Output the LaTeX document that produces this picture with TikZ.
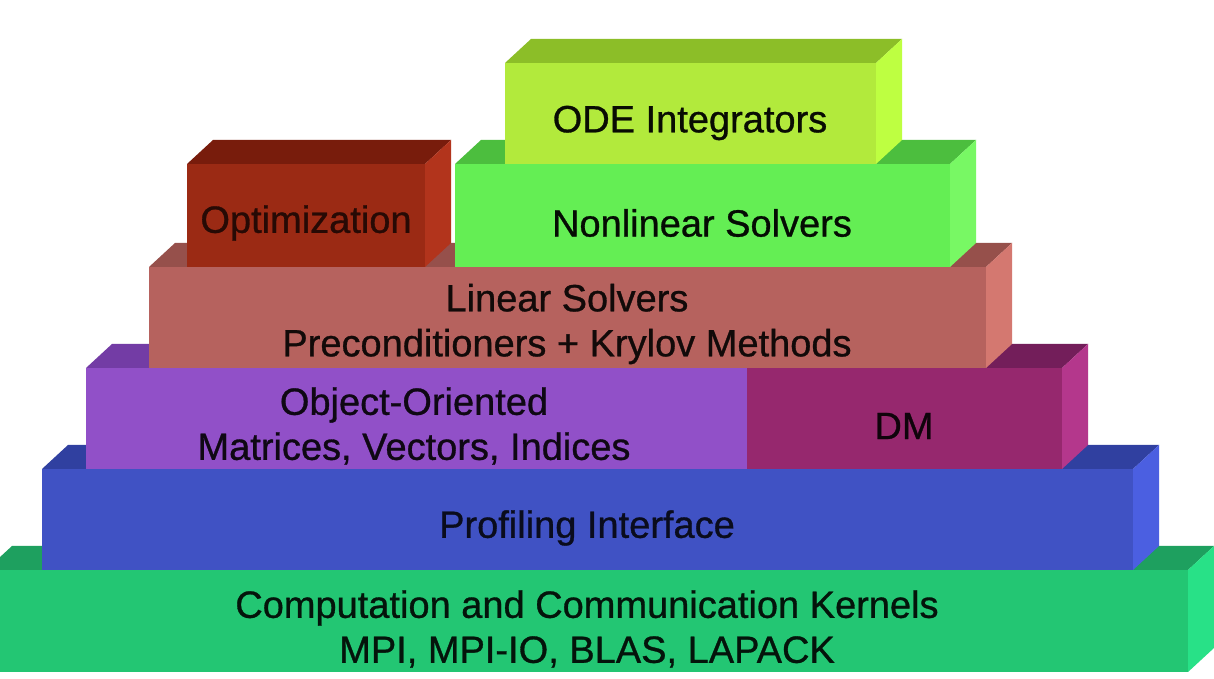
\documentclass[tikz,border=0pt]{standalone}
\usepackage{fontspec}
\setmainfont{Liberation Sans}
\newfontfamily\lblfont[FakeBold=0.8]{Liberation Sans}
\usetikzlibrary{calc}

\definecolor{kernF}{HTML}{23C673}
\definecolor{kernT}{HTML}{1EA05F}
\definecolor{kernS}{HTML}{28E187}
\definecolor{profF}{HTML}{4052C4}
\definecolor{profT}{HTML}{3040A0}
\definecolor{profS}{HTML}{4B5FE1}
\definecolor{vecF}{HTML}{9150C8}
\definecolor{vecT}{HTML}{733CA5}
\definecolor{dmF}{HTML}{96286E}
\definecolor{dmT}{HTML}{731E5A}
\definecolor{dmS}{HTML}{B4378C}
\definecolor{linF}{HTML}{B6625E}
\definecolor{linT}{HTML}{96504B}
\definecolor{linS}{HTML}{D47870}
\definecolor{optF}{HTML}{9B2A14}
\definecolor{optT}{HTML}{781C0C}
\definecolor{optS}{HTML}{B2341C}
\definecolor{nlsF}{HTML}{64EE54}
\definecolor{nlsT}{HTML}{4CBE3E}
\definecolor{nlsS}{HTML}{78F864}
\definecolor{odeF}{HTML}{B2EA3C}
\definecolor{odeT}{HTML}{8CBE28}
\definecolor{odeS}{HTML}{BEFF41}

\tikzset{lbl/.style={inner sep=0pt,align=center,
  font=\lblfont\fontsize{19}{22.5}\selectfont}}

\begin{document}
\begin{tikzpicture}[x=0.5pt,y=0.5pt]
\useasboundingbox (0,0) rectangle (1214,679);
\clip (0,0) rectangle (1214,679);
\fill[white] (0,0) rectangle (1214,679);
% kernels
\fill[kernF] (-14,7) rectangle (1188,109);
\fill[kernT] (-14,109) -- (1188,109) -- (1214,133) -- (12,133) -- cycle;
\fill[kernS] (1188,7) -- (1214,31) -- (1214,133) -- (1188,109) -- cycle;
% profiling
\fill[profF] (42,109) rectangle (1133,210);
\fill[profT] (42,210) -- (1133,210) -- (1159,234) -- (68,234) -- cycle;
\fill[profS] (1133,109) -- (1159,133) -- (1159,234) -- (1133,210) -- cycle;
% matrices, vectors
\fill[vecF] (86,210) rectangle (747,311);
\fill[vecT] (86,311) -- (747,311) -- (773,335) -- (112,335) -- cycle;
% dm
\fill[dmF] (747,210) rectangle (1062,311);
\fill[dmT] (747,311) -- (1062,311) -- (1088,335) -- (773,335) -- cycle;
\fill[dmS] (1062,210) -- (1088,234) -- (1088,335) -- (1062,311) -- cycle;
% linear solvers
\fill[linF] (149,311) rectangle (986,412);
\fill[linT] (149,412) -- (986,412) -- (1012,436) -- (175,436) -- cycle;
\fill[linS] (986,311) -- (1012,335) -- (1012,436) -- (986,412) -- cycle;
% optimization
\fill[optF] (187,412) rectangle (425,515);
\fill[optT] (187,515) -- (425,515) -- (451,539) -- (213,539) -- cycle;
\fill[optS] (425,412) -- (451,436) -- (451,539) -- (425,515) -- cycle;
% nonlinear solvers
\fill[nlsF] (455,412) rectangle (950,515);
\fill[nlsT] (455,515) -- (950,515) -- (976,539) -- (481,539) -- cycle;
\fill[nlsS] (950,412) -- (976,436) -- (976,539) -- (950,515) -- cycle;
% ode integrators
\fill[odeF] (505,515) rectangle (876,616);
\fill[odeT] (505,616) -- (876,616) -- (902,640) -- (531,640) -- cycle;
\fill[odeS] (876,515) -- (902,539) -- (902,640) -- (876,616) -- cycle;
% labels
\node[lbl,text=black!90!kernF] (kern) at (587,50)
  {Computation and Communication Kernels\\MPI, MPI-IO, BLAS, LAPACK};
\node[lbl,text=black!85!profF] (prof) at (587,151) {Profiling Interface};
\node[lbl,text=black!90!vecF] (vec) at (414,253)
  {Object-Oriented\\Matrices, Vectors, Indices};
\node[lbl,text=black!90!dmF] (dm) at (904,253) {DM};
\node[lbl,text=black!90!linF] (lin) at (567,355)
  {Linear Solvers\\Preconditioners + Krylov Methods};
\node[lbl,text=black!75!optF] (opt) at (306,456) {Optimization};
\node[lbl,text=black!95!nlsF] (nls) at (702,456) {Nonlinear Solvers};
\node[lbl,text=black!95!odeF] (ode) at (690,556) {ODE Integrators};
\end{tikzpicture}
\end{document}
